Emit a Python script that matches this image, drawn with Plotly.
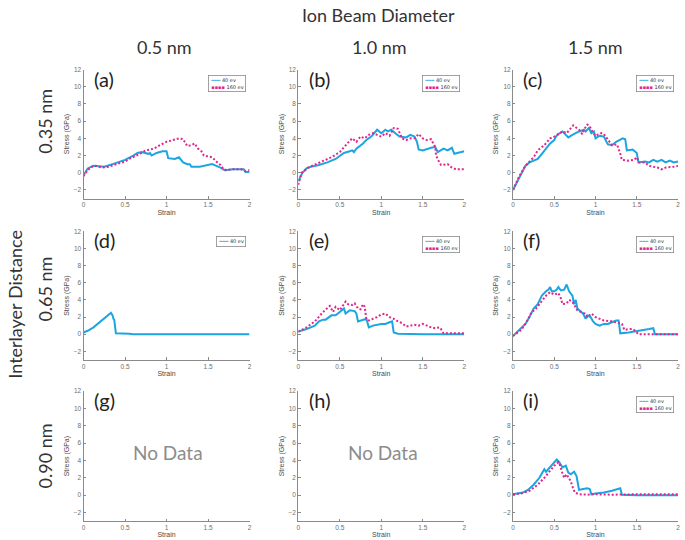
import plotly.graph_objects as go

# ---------------- data (strain, stress in GPa) ----------------
# (a) 0.35 nm / 0.5 nm
a_x_40 = [0, 0.05, 0.12, 0.2, 0.25, 0.35, 0.5, 0.6, 0.65, 0.7, 0.78, 0.8, 0.82, 0.88, 0.95, 1.0, 1.02, 1.1, 1.15, 1.2, 1.25, 1.28, 1.3, 1.4, 1.5, 1.55, 1.6, 1.65, 1.7, 1.8, 1.9, 1.93, 1.95, 2.0]
a_y_40 = [-0.3, 0.5, 0.8, 0.7, 0.7, 1.0, 1.5, 2.0, 2.3, 2.4, 2.2, 2.3, 2.0, 2.3, 2.5, 2.5, 1.7, 1.6, 1.8, 1.2, 1.0, 1.0, 0.7, 0.7, 0.9, 1.0, 0.8, 0.6, 0.3, 0.4, 0.4, 0.4, 0.1, 0.1]
a_x_160 = [0, 0.05, 0.1, 0.15, 0.22, 0.3, 0.4, 0.5, 0.55, 0.62, 0.68, 0.75, 0.85, 0.9, 1.0, 1.08, 1.15, 1.2, 1.25, 1.3, 1.34, 1.38, 1.42, 1.45, 1.5, 1.55, 1.6, 1.65, 1.68, 1.72, 1.8, 1.9, 1.95, 2.0]
a_y_160 = [-0.4, 0.3, 0.7, 0.8, 0.6, 0.7, 1.0, 1.3, 1.6, 1.9, 2.2, 2.6, 2.8, 3.1, 3.6, 3.8, 4.0, 3.9, 3.1, 3.2, 3.4, 2.8, 2.5, 2.0, 1.9, 1.8, 1.3, 0.9, 0.5, 0.3, 0.4, 0.4, 0.2, 0.3]

# (b) 0.35 nm / 1.0 nm
b_x_40 = [0, 0.05, 0.1, 0.15, 0.25, 0.35, 0.45, 0.5, 0.55, 0.62, 0.65, 0.67, 0.7, 0.78, 0.82, 0.88, 0.93, 0.95, 1.0, 1.05, 1.08, 1.12, 1.18, 1.22, 1.3, 1.35, 1.4, 1.43, 1.45, 1.5, 1.6, 1.65, 1.68, 1.75, 1.8, 1.85, 1.88, 1.92, 2.0]
b_y_40 = [-1.0, 0.0, 0.5, 0.7, 0.9, 1.2, 1.6, 1.9, 2.3, 2.5, 2.6, 2.4, 2.8, 3.4, 3.8, 4.2, 4.8, 5.0, 4.6, 5.0, 4.8, 5.0, 4.5, 4.2, 4.1, 4.4, 4.2, 3.6, 2.7, 2.6, 2.9, 3.0, 2.4, 2.8, 2.6, 2.9, 2.2, 2.3, 2.5]
b_x_160 = [0, 0.04, 0.12, 0.22, 0.3, 0.4, 0.5, 0.55, 0.6, 0.65, 0.7, 0.75, 0.8, 0.85, 0.9, 0.95, 1.0, 1.05, 1.1, 1.15, 1.2, 1.25, 1.3, 1.35, 1.4, 1.45, 1.5, 1.55, 1.6, 1.65, 1.66, 1.7, 1.72, 1.8, 1.85, 1.9, 2.0]
b_y_160 = [-1.4, 0.0, 0.6, 1.0, 1.4, 1.8, 2.4, 3.0, 3.5, 4.0, 3.6, 4.2, 4.0, 4.4, 4.6, 4.4, 4.2, 4.6, 4.3, 5.2, 5.1, 4.0, 3.8, 4.0, 4.0, 4.5, 4.0, 3.8, 3.9, 3.0, 2.0, 1.2, 0.9, 1.0, 0.6, 0.4, 0.4]

# (c) 0.35 nm / 1.5 nm
c_x_40 = [0, 0.05, 0.1, 0.15, 0.2, 0.3, 0.35, 0.4, 0.45, 0.5, 0.52, 0.55, 0.6, 0.62, 0.67, 0.72, 0.8, 0.86, 0.88, 0.92, 0.95, 0.98, 1.0, 1.05, 1.1, 1.15, 1.2, 1.25, 1.3, 1.33, 1.36, 1.38, 1.45, 1.5, 1.52, 1.6, 1.65, 1.7, 1.75, 1.8, 1.85, 1.9, 1.95, 2.0]
c_y_40 = [-2.0, -1.0, 0.0, 0.8, 1.2, 1.6, 2.2, 2.8, 3.4, 3.8, 4.2, 4.5, 4.8, 4.6, 4.1, 4.4, 4.8, 5.0, 4.8, 5.2, 4.6, 4.8, 4.0, 4.3, 4.2, 3.3, 3.2, 3.6, 3.8, 4.0, 3.9, 2.6, 2.7, 2.3, 1.2, 1.3, 1.2, 1.5, 1.3, 1.5, 1.2, 1.4, 1.2, 1.3]
c_x_160 = [0, 0.07, 0.15, 0.25, 0.3, 0.38, 0.45, 0.5, 0.55, 0.6, 0.65, 0.7, 0.73, 0.8, 0.84, 0.86, 0.9, 0.93, 0.96, 1.0, 1.07, 1.1, 1.15, 1.2, 1.26, 1.28, 1.3, 1.32, 1.4, 1.47, 1.5, 1.53, 1.6, 1.65, 1.75, 1.8, 1.85, 1.95, 2.0]
c_y_160 = [-2.0, -0.5, 0.8, 1.8, 2.6, 3.2, 4.0, 4.2, 4.5, 4.8, 4.6, 5.2, 5.5, 5.0, 4.5, 5.0, 5.6, 5.4, 4.8, 4.3, 4.6, 4.5, 3.8, 3.2, 3.3, 2.8, 2.2, 1.5, 1.4, 1.5, 1.8, 1.2, 1.2, 0.8, 0.6, 0.4, 0.6, 0.7, 0.8]

# (d) 0.65 nm / 0.5 nm
d_x_40 = [0, 0.05, 0.12, 0.2, 0.26, 0.32, 0.33, 0.35, 0.36, 0.37, 0.39, 0.45, 0.55, 0.6, 2.0]
d_y_40 = [0.2, 0.4, 0.8, 1.4, 1.9, 2.4, 2.5, 2.2, 1.8, 1.7, 0.1, 0.1, 0.05, 0.0, 0.0]

# (e) 0.65 nm / 1.0 nm
e_x_40 = [0, 0.1, 0.2, 0.25, 0.3, 0.33, 0.4, 0.45, 0.5, 0.55, 0.57, 0.62, 0.68, 0.7, 0.72, 0.78, 0.82, 0.85, 0.9, 1.0, 1.05, 1.1, 1.13, 1.15, 1.2, 1.5, 2.0]
e_y_40 = [0.3, 0.6, 1.0, 1.5, 1.7, 1.7, 2.2, 2.2, 2.6, 3.0, 2.4, 2.8, 2.7, 2.4, 1.5, 1.7, 1.8, 0.8, 1.0, 1.2, 1.2, 1.4, 1.5, 0.2, 0.05, 0.0, 0.0]
e_x_160 = [0, 0.1, 0.2, 0.3, 0.38, 0.42, 0.45, 0.5, 0.57, 0.6, 0.65, 0.68, 0.72, 0.75, 0.78, 0.8, 0.82, 0.85, 0.9, 0.95, 1.0, 1.05, 1.1, 1.15, 1.2, 1.25, 1.3, 1.35, 1.4, 1.45, 1.5, 1.55, 1.6, 1.65, 1.7, 1.72, 1.75, 2.0]
e_y_160 = [0.3, 0.8, 1.5, 2.6, 3.3, 2.6, 3.2, 2.8, 3.8, 3.5, 3.4, 3.6, 3.0, 2.9, 3.5, 3.2, 1.8, 1.6, 1.8, 2.0, 2.3, 2.4, 2.0, 1.8, 1.5, 1.3, 0.9, 1.0, 1.1, 1.0, 1.2, 1.0, 0.8, 0.7, 0.8, 0.6, 0.1, 0.1]

# (f) 0.65 nm / 1.5 nm
f_x_40 = [0, 0.08, 0.15, 0.2, 0.25, 0.3, 0.35, 0.4, 0.43, 0.45, 0.47, 0.5, 0.53, 0.55, 0.58, 0.62, 0.65, 0.68, 0.72, 0.74, 0.76, 0.78, 0.82, 0.85, 0.88, 0.9, 0.94, 0.97, 1.0, 1.05, 1.1, 1.15, 1.2, 1.25, 1.28, 1.3, 1.4, 1.55, 1.65, 1.7, 1.72, 2.0]
f_y_40 = [-0.2, 0.5, 1.2, 2.0, 3.0, 3.5, 4.5, 5.0, 5.2, 5.5, 5.0, 5.0, 5.2, 5.5, 5.1, 5.2, 5.8, 5.0, 4.5, 3.5, 4.0, 3.0, 2.6, 2.4, 1.8, 2.2, 2.0, 1.5, 1.2, 1.0, 1.2, 1.2, 1.4, 1.6, 1.6, 0.1, 0.2, 0.4, 0.6, 0.7, 0.0, 0.0]
f_x_160 = [0, 0.1, 0.17, 0.22, 0.28, 0.32, 0.36, 0.4, 0.45, 0.5, 0.55, 0.58, 0.6, 0.65, 0.68, 0.72, 0.78, 0.83, 0.87, 0.9, 0.95, 1.0, 1.05, 1.1, 1.2, 1.25, 1.28, 1.32, 1.35, 1.4, 1.45, 1.48, 1.52, 2.0]
f_y_160 = [-0.2, 0.5, 1.5, 2.5, 3.0, 3.5, 4.0, 4.5, 4.9, 4.6, 4.8, 4.2, 3.5, 3.6, 4.0, 3.8, 2.8, 2.6, 2.4, 2.0, 2.4, 2.0, 1.8, 1.6, 1.5, 1.4, 1.3, 1.2, 0.5, 0.6, 0.6, 0.4, 0.0, 0.0]

# (i) 0.90 nm / 1.5 nm
i_x_40 = [0, 0.05, 0.12, 0.18, 0.25, 0.32, 0.38, 0.4, 0.45, 0.5, 0.53, 0.56, 0.6, 0.64, 0.67, 0.7, 0.74, 0.77, 0.78, 0.8, 0.85, 0.9, 0.93, 0.95, 1.0, 1.1, 1.2, 1.28, 1.3, 1.32, 1.5, 2.0]
i_y_40 = [0.1, 0.2, 0.3, 0.6, 1.2, 2.0, 3.0, 2.7, 3.2, 3.8, 4.1, 3.8, 3.2, 3.4, 2.6, 2.4, 2.7, 2.2, 1.5, 0.6, 0.7, 0.8, 0.7, 0.1, 0.2, 0.3, 0.5, 0.7, 0.8, 0.05, 0.0, 0.0]
i_x_160 = [0, 0.1, 0.2, 0.3, 0.38, 0.45, 0.5, 0.55, 0.57, 0.6, 0.62, 0.65, 0.68, 0.7, 0.72, 0.75, 0.8, 0.9, 1.0, 1.2, 1.5, 1.8, 2.0]
i_y_160 = [0.1, 0.2, 0.5, 1.2, 2.0, 2.8, 3.4, 3.8, 3.4, 2.5, 2.0, 2.4, 2.0, 1.6, 1.0, 0.3, 0.1, 0.05, 0.1, 0.05, 0.1, 0.15, 0.1]

panel_labels = ["(a)", "(b)", "(c)", "(d)", "(e)", "(f)", "(g)", "(h)", "(i)"]
col_titles = ["0.5 nm", "1.0 nm", "1.5 nm"]
row_titles = ["0.35 nm", "0.65 nm", "0.90 nm"]
x_ticks = [0, 0.5, 1, 1.5, 2]
x_ticktext = ["0", "0.5", "1", "1.5", "2"]
y_ticks = [-2, 0, 2, 4, 6, 8, 10, 12]
series_names = ["40 ev", "160 ev"]

panels = {
    0: [(a_x_40, a_y_40), (a_x_160, a_y_160)],
    1: [(b_x_40, b_y_40), (b_x_160, b_y_160)],
    2: [(c_x_40, c_y_40), (c_x_160, c_y_160)],
    3: [(d_x_40, d_y_40)],
    4: [(e_x_40, e_y_40), (e_x_160, e_y_160)],
    5: [(f_x_40, f_y_40), (f_x_160, f_y_160)],
    8: [(i_x_40, i_y_40), (i_x_160, i_y_160)],
}
no_data = [6, 7]

# ---------------- style ----------------
BLUE = "#1CA5E0"
PINK = "#E3248C"
AXIS = "#8a8a8a"
TICKC = "#6e6e6e"
TITLEC = "#4a4a4a"
W, H = 685, 540
col_px = [(82, 249), (298, 465), (514, 680)]
row_px = [(66, 196), (229, 358.6), (390, 521)]
TXT = "Lato"

fig = go.Figure()
layout = dict(
    width=W, height=H, margin=dict(l=0, r=0, t=0, b=0),
    paper_bgcolor="white", plot_bgcolor="white", showlegend=False,
    font=dict(family="Liberation Sans", color=TICKC),
)
annotations = []

for k in range(9):
    r, c = divmod(k, 3)
    n = "" if k == 0 else str(k + 1)
    xd = [col_px[c][0] / W, col_px[c][1] / W]
    yd = [1 - row_px[r][1] / H, 1 - row_px[r][0] / H]
    layout["xaxis" + n] = dict(
        domain=xd, anchor="y" + n, range=[0, 2], tickvals=x_ticks, ticktext=x_ticktext,
        showline=True, linecolor=AXIS, linewidth=1, showgrid=False, zeroline=False,
        ticks="inside", ticklen=2.5, tickcolor=AXIS, tickfont=dict(size=6.5, color=TICKC),
        ticklabeloverflow="allow",
        title=dict(text="Strain", font=dict(size=7, color=TITLEC), standoff=2),
    )
    layout["yaxis" + n] = dict(
        domain=yd, anchor="x" + n, range=[-3, 12], tickvals=y_ticks,
        showline=True, linecolor=AXIS, linewidth=1, showgrid=False, zeroline=False,
        ticks="inside", ticklen=2.5, tickcolor=AXIS, tickfont=dict(size=6.5, color=TICKC),
        ticklabeloverflow="allow",
        title=dict(text="Stress (GPa)", font=dict(size=7, color=TITLEC), standoff=3),
    )
    xr, yr = "x" + n, "y" + n
    annotations.append(dict(xref=xr + " domain", yref=yr + " domain", x=0.05, y=0.93,
                            xanchor="left", yanchor="middle", showarrow=False,
                            text=panel_labels[k], font=dict(family=TXT, size=20, color="#222222")))
    if k in panels:
        series = panels[k]
        styles = [dict(color=BLUE, width=2), dict(color=PINK, width=2, dash="2px,2px")]
        for j, (xs, ys) in enumerate(series):
            fig.add_trace(go.Scatter(x=xs, y=ys, mode="lines", name=series_names[j],
                                     line=styles[j], xaxis=xr, yaxis=yr))
        lines = ["<span style='color:%s'><b>━━━</b></span> 40 ev" % BLUE]
        if len(series) > 1:
            lines.append("<span style='color:%s'>▪▪▪▪</span> 160 ev" % PINK)
        annotations.append(dict(xref=xr + " domain", yref=yr + " domain", x=0.976, y=0.96,
                                xanchor="right", yanchor="top", showarrow=False, align="left",
                                text="<br>".join(lines),
                                font=dict(family="DejaVu Sans", size=5, color="#333333"),
                                bordercolor="#8a8a8a", borderwidth=0.8, borderpad=1.5,
                                bgcolor="white"))
    else:
        # empty panel: keep the axes drawn
        fig.add_trace(go.Scatter(x=[None], y=[None], mode="lines", xaxis=xr, yaxis=yr,
                                 hoverinfo="skip"))
    if k in no_data:
        annotations.append(dict(xref=xr + " domain", yref=yr + " domain", x=0.51, y=0.527,
                                xanchor="center", yanchor="middle", showarrow=False,
                                text="No Data", font=dict(family=TXT, size=19, color="#8c8c8c")))

hdr = dict(family=TXT, size=18, color="#333333")
annotations.append(dict(xref="paper", yref="paper", x=379 / W, y=1 - 11 / H, showarrow=False,
                        xanchor="center", yanchor="middle", text="Ion Beam Diameter", font=hdr))
for c, t in enumerate(col_titles):
    annotations.append(dict(xref="paper", yref="paper", x=[163, 380, 597][c] / W, y=1 - 43 / H,
                            xanchor="center", yanchor="middle", showarrow=False, text=t, font=hdr))
for r, t in enumerate(row_titles):
    annotations.append(dict(xref="paper", yref="paper", x=43 / W, y=1 - [118, 287, 455][r] / H,
                            xanchor="center", yanchor="middle", showarrow=False, textangle=-90,
                            text=t, font=hdr))
annotations.append(dict(xref="paper", yref="paper", x=13 / W, y=1 - 302 / H, showarrow=False,
                        xanchor="center", yanchor="middle", textangle=-90,
                        text="Interlayer Distance", font=hdr))

layout["annotations"] = annotations
fig.update_layout(**layout)
fig.write_html("out.html", config={"displayModeBar": False},
               post_script="document.body.style.margin='0';")
